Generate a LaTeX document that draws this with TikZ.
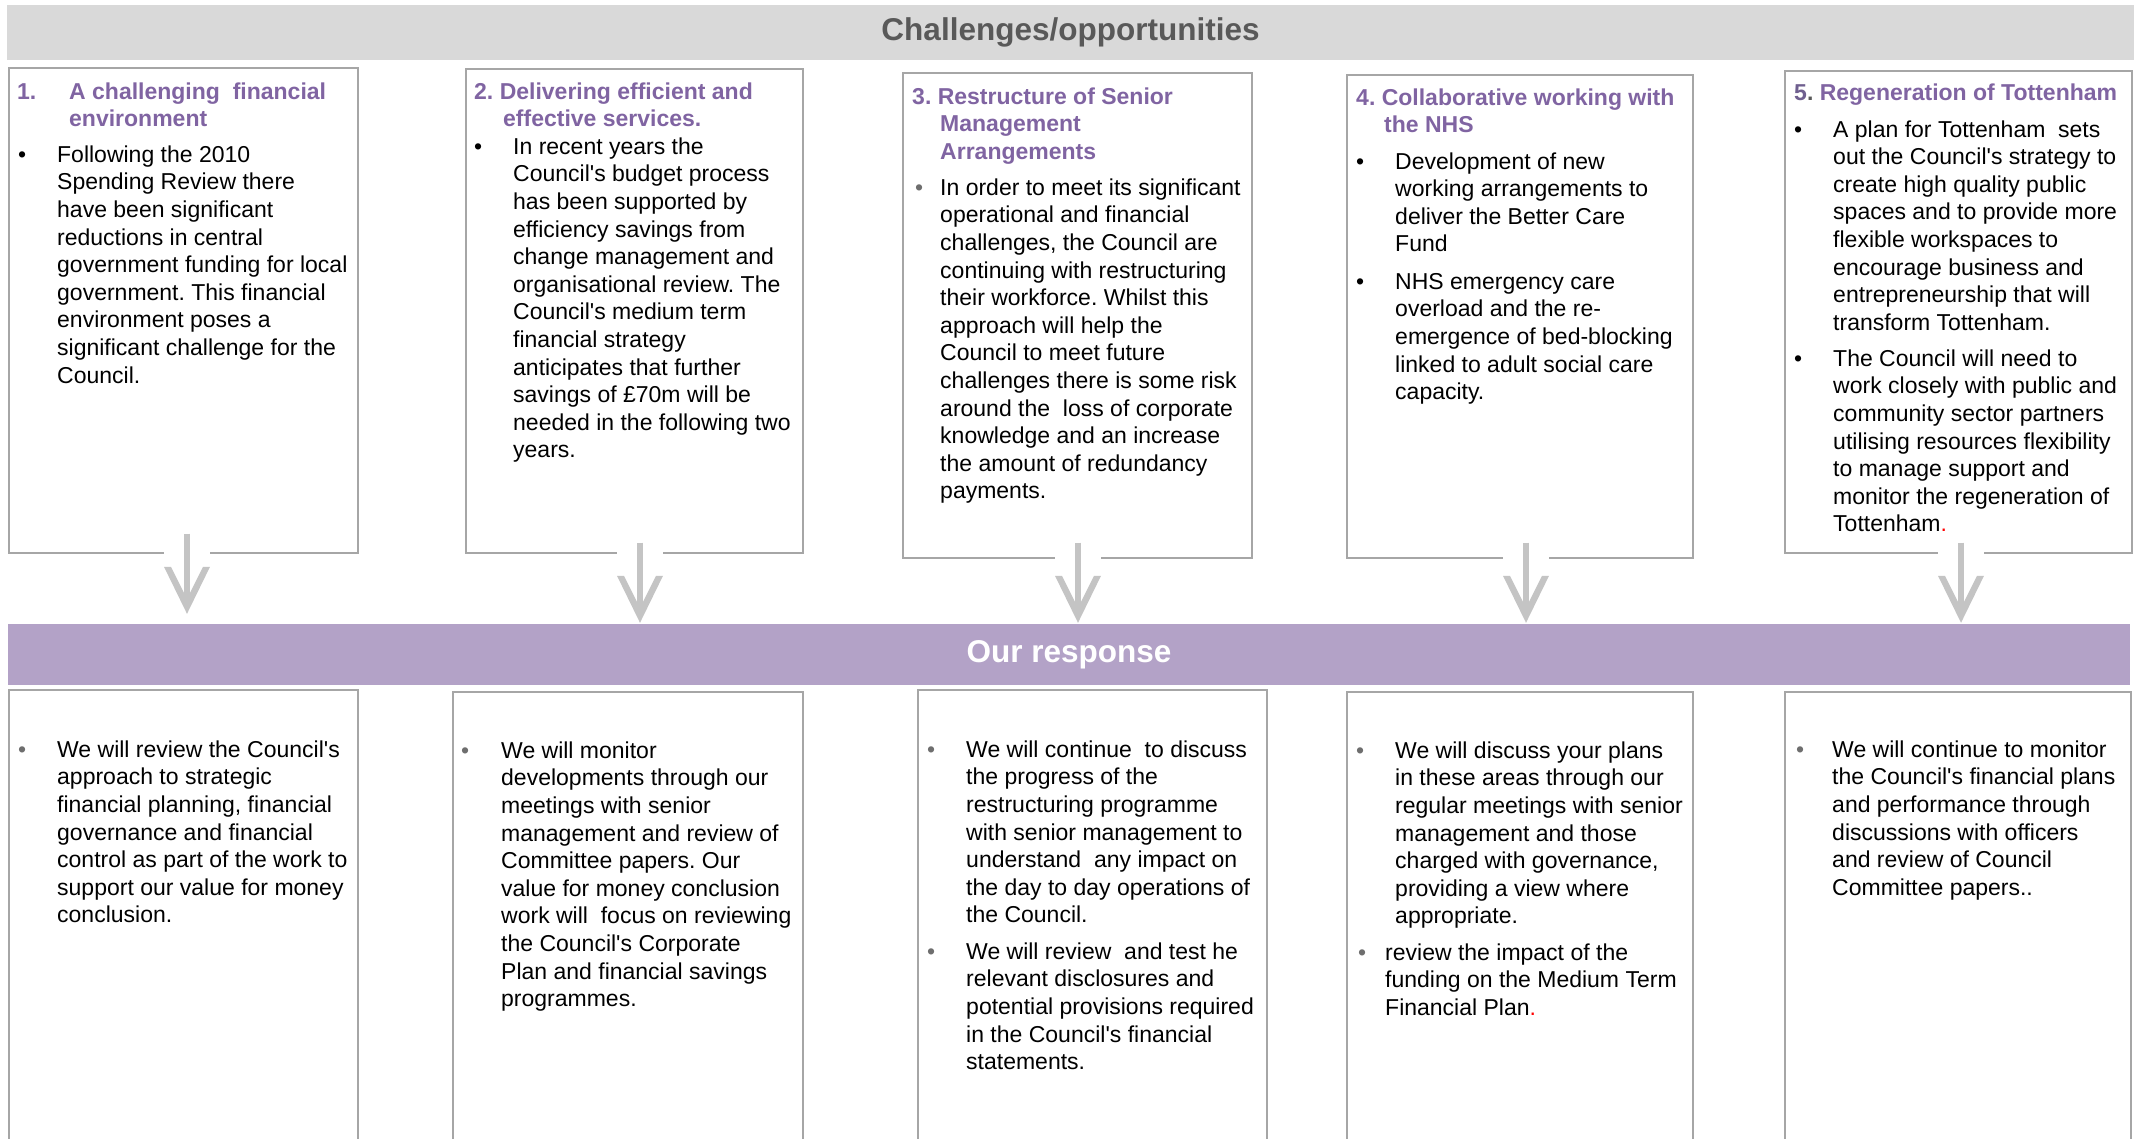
\documentclass[tikz,border=0pt]{standalone}
\usepackage{fontspec}
\setmainfont{Liberation Sans}[Ligatures=TeXOff]
\usetikzlibrary{calc}
\frenchspacing

\definecolor{bandgray}{HTML}{D9D9D9}
\definecolor{titlegray}{HTML}{595959}
\definecolor{bandpurple}{HTML}{B3A2C7}
\definecolor{headpurple}{HTML}{8064A2}
\definecolor{numpurple}{HTML}{6F5F8F}
\definecolor{boxline}{HTML}{A6A6A6}
\definecolor{arrowgray}{HTML}{C4C4C4}
\definecolor{bulletgray}{HTML}{6E6E6E}

\newcommand\blkbul{\textbullet}
\newcommand\grybul{{\color{bulletgray}\textbullet}}

% bullet paragraph: name, text x, first baseline, bullet indent, bullet, lines
\newcommand\bpara[6]{%
  \node[bodytxt] (#1) at (#2,#3-18) {\rule{0pt}{18pt}\llap{\makebox[#4pt][l]{#5}}#6};}

% grey down arrow from a start coordinate to a tip coordinate
\newcommand\flowarrow[2]{%
  \fill[white] ($(#1)+(-23,0)$) rectangle ($(#1)+(23,30)$);
  \draw[arrowshaft] (#1) -- ($(#2)+(0,-12)$);
  \fill[arrowgray] (#2) -- ++(-23,-47) -- ++(7,0) -- ($(#2)+(0,-15)$)
     -- ($(#2)+(16,-47)$) -- ++(7,0) -- cycle;}

\begin{document}
\begin{tikzpicture}[x=1pt,y=-1pt,
  band/.style={inner sep=0pt, font=\fontsize{31.5}{36}\selectfont\bfseries},
  cbox/.style={draw=boxline, line width=1.3pt, inner sep=0pt},
  bodytxt/.style={font=\fontsize{23}{27.6}\selectfont, align=left, anchor=north west, inner sep=0pt},
  headtxt/.style={bodytxt, font=\fontsize{23}{27.6}\selectfont\bfseries, text=headpurple},
  arrowshaft/.style={draw=arrowgray, line width=6pt}]

\useasboundingbox (0,0) rectangle (2141,1139);
\clip (0,0) rectangle (2141,1139);
\fill[white] (0,0) rectangle (2141,1139);

% title bands
\node[band, fill=bandgray, text=titlegray, minimum width=2127pt, minimum height=55pt] (chal) at (1070.5,32.5) {Challenges/opportunities};
\node[band, fill=bandpurple, text=white, minimum width=2122pt, minimum height=61pt] (resp) at (1069,654.5) {Our response};

% challenge boxes
\node[cbox, minimum width=349pt, minimum height=485pt] (b1) at (183.5,310.5) {};
\node[cbox, minimum width=337pt, minimum height=484pt] (b2) at (634.5,311) {};
\node[cbox, minimum width=349pt, minimum height=485pt] (b3) at (1077.5,315.5) {};
\node[cbox, minimum width=346pt, minimum height=483pt] (b4) at (1520,316.5) {};
\node[cbox, minimum width=347pt, minimum height=482pt] (b5) at (1958.5,312) {};

% response boxes (run off the bottom edge)
\node[cbox, minimum width=349pt, minimum height=470pt] (r1) at (183.5,925) {};
\node[cbox, minimum width=350pt, minimum height=468pt] (r2) at (628,926) {};
\node[cbox, minimum width=349pt, minimum height=470pt] (r3) at (1092.5,925) {};
\node[cbox, minimum width=346pt, minimum height=468pt] (r4) at (1520,926) {};
\node[cbox, minimum width=346pt, minimum height=468pt] (r5) at (1958,926) {};

% 1. financial environment
\node[headtxt] (h1) at (17,81) {\rule{0pt}{18pt}\makebox[52pt][l]{1.}A challenging\ \ financial\\\hspace*{52pt}environment};
\bpara{p1}{57}{162}{39}{\blkbul}{Following the 2010\\Spending Review there\\have been significant\\reductions in central\\government funding for local\\government. This financial\\environment poses a\\significant challenge for the\\Council.}

% 2. efficient services
\node[headtxt] (h2) at (474,81) {\rule{0pt}{18pt}2. Delivering efficient and\\\hspace*{29pt}effective services.};
\bpara{p2}{513}{154}{39}{\blkbul}{In recent years the\\Council's budget process\\has been supported by\\efficiency savings from\\change management and\\organisational review. The\\Council's medium term\\financial strategy\\anticipates that further\\savings of £70m will be\\needed in the following two\\years.}

% 3. senior management
\node[headtxt] (h3) at (912,86) {\rule{0pt}{18pt}3. Restructure of Senior\\\hspace*{28pt}Management\\\hspace*{28pt}Arrangements};
\bpara{p3}{940}{195}{25}{\grybul}{In order to meet its significant\\operational and financial\\challenges, the Council are\\continuing with restructuring\\their workforce. Whilst this\\approach will help the\\Council to meet future\\challenges there is some risk\\around the\ \ loss of corporate\\knowledge and an increase\\the amount of redundancy\\payments.}

% 4. NHS
\node[headtxt] (h4) at (1356,87) {\rule{0pt}{18pt}4. Collaborative working with\\\hspace*{28pt}the NHS};
\bpara{p4a}{1395}{169}{39}{\blkbul}{Development of new\\working arrangements to\\deliver the Better Care\\Fund}
\bpara{p4b}{1395}{289}{39}{\blkbul}{NHS emergency care\\overload and the re-\\emergence of bed-blocking\\linked to adult social care\\capacity.}

% 5. Tottenham
\node[headtxt] (h5) at (1794,82) {\rule{0pt}{18pt}{\color{numpurple}5}{\color{titlegray}.} Regeneration of Tottenham};
\bpara{p5a}{1833}{137}{39}{\blkbul}{A plan for Tottenham\ \ sets\\out the Council's strategy to\\create high quality public\\spaces and to provide more\\flexible workspaces to\\encourage business and\\entrepreneurship that will\\transform Tottenham.}
\bpara{p5b}{1833}{366}{39}{\blkbul}{The Council will need to\\work closely with public and\\community sector partners\\utilising resources flexibility\\to manage support and\\monitor the regeneration of\\Tottenham{\color{red}.}}

% responses
\bpara{q1}{57}{757}{39}{\grybul}{We will review the Council's\\approach to strategic\\financial planning, financial\\governance and financial\\control as part of the work to\\support our value for money\\conclusion.}
\bpara{q2}{501}{758}{40}{\grybul}{We will monitor\\developments through our\\meetings with senior\\management and review of\\Committee papers. Our\\value for money conclusion\\work will\ \ focus on reviewing\\the Council's Corporate\\Plan and financial savings\\programmes.}
\bpara{q3a}{966}{757}{39}{\grybul}{We will continue\ \ to discuss\\the progress of the\\restructuring programme\\with senior management to\\understand\ \ any impact on\\the day to day operations of\\the Council.}
\bpara{q3b}{966}{959}{39}{\grybul}{We will review\ \ and test he\\relevant disclosures and\\potential provisions required\\in the Council's financial\\statements.}
\bpara{q4a}{1395}{758}{39}{\grybul}{We will discuss your plans\\in these areas through our\\regular meetings with senior\\management and those\\charged with governance,\\providing a view where\\appropriate.}
\bpara{q4b}{1385}{960}{27}{\grybul}{review the impact of the\\funding on the Medium Term\\Financial Plan{\color{red}.}}
\bpara{q5}{1832}{757}{36}{\grybul}{We will continue to monitor\\the Council's financial plans\\and performance through\\discussions with officers\\and review of Council\\Committee papers..}

% arrows from each challenge down to the response band
\coordinate (a1s) at ($(b1.south)+(3.5,-20)$);
\coordinate (a1t) at ($(a1s |- resp.north)+(0,-10)$);
\coordinate (a2s) at ($(b2.south)+(5.5,-11)$);
\coordinate (a2t) at ($(a2s |- resp.north)+(0,-1)$);
\coordinate (a3s) at ($(b3.south)+(0.5,-16)$);
\coordinate (a3t) at ($(a3s |- resp.north)+(0,-1)$);
\coordinate (a4s) at ($(b4.south)+(6,-16)$);
\coordinate (a4t) at ($(a4s |- resp.north)+(0,-1)$);
\coordinate (a5s) at ($(b5.south)+(2.5,-11)$);
\coordinate (a5t) at ($(a5s |- resp.north)+(0,-1)$);
\flowarrow{a1s}{a1t}
\flowarrow{a2s}{a2t}
\flowarrow{a3s}{a3t}
\flowarrow{a4s}{a4t}
\flowarrow{a5s}{a5t}
\end{tikzpicture}
\end{document}
